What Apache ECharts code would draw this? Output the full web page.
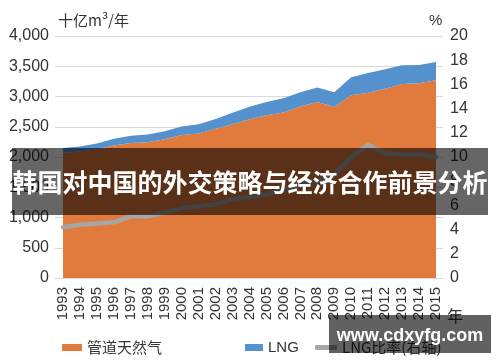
<!DOCTYPE html>
<html>
<head>
<meta charset="utf-8">
<script src="https://cdn.jsdelivr.net/npm/echarts@6/dist/echarts.min.js"></script>
<style>html,body{margin:0;padding:0;background:#fff}#c{width:500px;height:362px}</style>
</head>
<body>
<div id="c"></div>
<script>
var years = ['1993','1994','1995','1996','1997','1998','1999','2000','2001','2002','2003','2004','2005','2006','2007','2008','2009','2010','2011','2012','2013','2014','2015'];
var pipeline = [2070,2090,2130,2190,2230,2245,2295,2365,2390,2465,2540,2625,2690,2735,2835,2910,2825,3020,3060,3130,3205,3220,3270];
var lng = [80,85,95,110,120,125,130,140,150,165,190,205,220,235,235,240,245,300,330,320,310,300,300];
var lngRatio = [4.2,4.4,4.5,4.6,5.1,5.1,5.4,5.8,5.9,6.1,6.5,6.7,6.9,7.3,7.6,8.0,8.5,10.0,11.0,10.3,10.2,10.2,10.0];
var leftTicks = {min:0, max:4000, interval:500};
var rightTicks = {min:0, max:20, interval:2};

var chart = echarts.init(document.getElementById('c'));
var grid = '#d9d9d9';
var txt = '#333333';
var font = 'Liberation Sans, Arial, sans-serif';
var cjk = 'Noto Sans CJK SC, sans-serif';
chart.setOption({
  animation: false,
  grid: {left: 63, right: 64, top: 36, bottom: 84, outerBoundsMode: 'none'},
  legend: [
    {data: ['管道天然气'], left: 57, top: 335, itemWidth: 20, itemHeight: 7, icon: 'rect', textStyle: {fontSize: 15, color: txt, fontFamily: cjk}, itemGap: 4},
    {data: ['LNG'], left: 240, top: 335, itemWidth: 18, itemHeight: 7, icon: 'rect', textStyle: {fontSize: 15, color: txt, fontFamily: font}},
    {data: ['LNG比率(右轴)'], left: 310, top: 335, itemWidth: 22, itemHeight: 5, icon: 'roundRect', textStyle: {fontSize: 15, color: txt, fontFamily: cjk}}
  ],
  xAxis: {
    type: 'category', data: years, boundaryGap: false,
    axisLine: {show: true, lineStyle: {color: grid}},
    axisTick: {show: false},
    axisLabel: {rotate: 90, interval: 0, fontSize: 15, color: txt, fontFamily: font, margin: 9}
  },
  yAxis: [
    {type: 'value', position: 'left', min: leftTicks.min, max: leftTicks.max, interval: leftTicks.interval,
     axisLine: {show: false}, axisTick: {show: true, length: 8, lineStyle: {color: grid}},
     splitLine: {show: true, lineStyle: {color: grid, width: 1}},
     axisLabel: {fontSize: 16, color: txt, fontFamily: font, margin: 14,
       formatter: function(v){ return v.toString().replace(/\B(?=(\d{3})+(?!\d))/g, ','); }}},
    {type: 'value', position: 'right', min: leftTicks.min, max: leftTicks.max, interval: leftTicks.interval,
     axisLine: {show: false}, axisTick: {show: true, length: 7, lineStyle: {color: grid}},
     splitLine: {show: false}, axisLabel: {show: false}},
    {type: 'value', position: 'right', min: rightTicks.min, max: rightTicks.max, interval: rightTicks.interval,
     axisLine: {show: false}, axisTick: {show: false}, splitLine: {show: false},
     axisLabel: {fontSize: 16, color: txt, fontFamily: font, margin: 14}}
  ],
  series: [
    {name: '管道天然气', type: 'line', stack: 'total', data: pipeline, symbol: 'none',
     itemStyle: {color: '#E07B3D'}, lineStyle: {width: 0}, areaStyle: {color: '#E07B3D', opacity: 1}},
    {name: 'LNG', type: 'line', stack: 'total', data: lng, symbol: 'none',
     itemStyle: {color: '#5592CD'}, lineStyle: {width: 0}, areaStyle: {color: '#5592CD', opacity: 1}},
    {name: 'LNG比率(右轴)', type: 'line', yAxisIndex: 2, data: lngRatio, symbol: 'none',
     itemStyle: {color: '#A6A6A6'}, lineStyle: {color: '#A6A6A6', width: 4.5, cap: 'round', join: 'round'}}
  ],
  graphic: [
    {type: 'text', left: 58, top: 13, z: 50, style: {text: '十亿m³/年', fontSize: 15, fill: txt, fontFamily: cjk}},
    {type: 'text', left: 429, top: 13, z: 50, style: {text: '%', fontSize: 15, fill: txt, fontFamily: font}},
    {type: 'text', left: 447, top: 308, z: 50, style: {text: '年', fontSize: 16, fill: txt, fontFamily: cjk}},
    {type: 'rect', shape: {x: 12, y: 148, width: 476, height: 67}, z: 100, style: {fill: 'rgba(0,0,0,0.6)'}},
    {type: 'text', x: 250, y: 182, z: 101, style: {text: '韩国对中国的外交策略与经济合作前景分析', fontSize: 25, fontWeight: 'bold', fill: '#ffffff', fontFamily: cjk, align: 'center', verticalAlign: 'middle'}},
    {type: 'rect', shape: {x: 329, y: 315, width: 162, height: 38}, z: 100, style: {fill: 'rgba(0,0,0,0.62)'}},
    {type: 'text', x: 410, y: 336, z: 101, style: {text: 'www.cdxyfg.com', fontSize: 18, fontWeight: 'bold', fill: '#ffffff', fontFamily: font, align: 'center', verticalAlign: 'middle'}}
  ]
});
</script>
</body>
</html>
